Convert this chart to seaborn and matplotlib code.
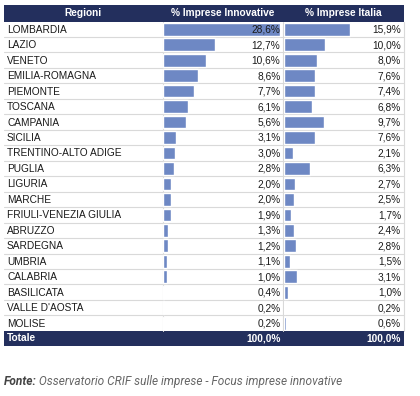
import matplotlib
matplotlib.use("Agg")
import matplotlib.pyplot as plt
import seaborn as sns
import pandas as pd
from matplotlib.patches import Rectangle

regions = ["LOMBARDIA", "LAZIO", "VENETO", "EMILIA-ROMAGNA", "PIEMONTE", "TOSCANA",
           "CAMPANIA", "SICILIA", "TRENTINO-ALTO ADIGE", "PUGLIA", "LIGURIA", "MARCHE",
           "FRIULI-VENEZIA GIULIA", "ABRUZZO", "SARDEGNA", "UMBRIA", "CALABRIA",
           "BASILICATA", "VALLE D'AOSTA", "MOLISE"]
innovative = [28.6, 12.7, 10.6, 8.6, 7.7, 6.1, 5.6, 3.1, 3.0, 2.8, 2.0, 2.0, 1.9, 1.3,
              1.2, 1.1, 1.0, 0.4, 0.2, 0.2]
italia = [15.9, 10.0, 8.0, 7.6, 7.4, 6.8, 9.7, 7.6, 2.1, 6.3, 2.7, 2.5, 1.7, 2.4,
          2.8, 1.5, 3.1, 1.0, 0.2, 0.6]
headers = ["Regioni", "% Imprese Innovative", "% Imprese Italia"]
total_label = "Totale"
totals = [100.0, 100.0]
source_bold = "Fonte:"
source_text = " Osservatorio CRIF sulle imprese - Focus imprese innovative"

df = pd.DataFrame({"Regione": regions, "Innovative": innovative, "Italia": italia})

sns.set_theme(style="white")
plt.rcParams["font.family"] = ["Liberation Sans", "DejaVu Sans"]

W, H = 420, 396
fig = plt.figure(figsize=(W / 100, H / 100), dpi=100)
fig.patch.set_facecolor("white")

NAVY = "#232f5d"
BAR = "#6e88c4"
GRID = "#d9d9d9"
TXT = "#1a1a1a"

n = len(regions)
top, row_h = 21.5, 15.47
bottom = top + n * row_h
left, c1, c2, right = 4.0, 162.5, 283.0, 404.0

# background / table decoration axes in pixel coordinates
bg = fig.add_axes([0, 0, 1, 1])
bg.set_xlim(0, W)
bg.set_ylim(H, 0)
bg.axis("off")
bg.add_patch(Rectangle((left, 5), right - left, top - 5, color=NAVY, lw=0))
bg.add_patch(Rectangle((left, bottom), right - left, 15.0, color=NAVY, lw=0))
for i in range(1, n):
    y = top + i * row_h
    bg.plot([left, right], [y, y], color=GRID, lw=0.8)
for x in (c1, c2, right):
    bg.plot([x, x], [top, bottom], color=GRID, lw=0.8)

fs = 7.3
hy = (5 + top) / 2
bg.text(82.5, hy, headers[0], color="white", fontweight="bold", fontsize=fs, ha="center", va="center")
bg.text(223, hy, headers[1], color="white", fontweight="bold", fontsize=fs, ha="center", va="center")
bg.text(343, hy, headers[2], color="white", fontweight="bold", fontsize=fs, ha="center", va="center")

ty = bottom + 7.5
bg.text(7, ty, total_label, color="white", fontweight="bold", fontsize=fs, ha="left", va="center")
bg.text(280.5, ty, f"{totals[0]:.1f}%".replace(".", ","), color="white", fontweight="bold",
        fontsize=fs, ha="right", va="center")
bg.text(401, ty, f"{totals[1]:.1f}%".replace(".", ","), color="white", fontweight="bold",
        fontsize=fs, ha="right", va="center")

for i, r in enumerate(regions):
    bg.text(7, top + (i + 0.5) * row_h + 0.5, r, color=TXT, fontsize=fs, ha="left", va="center")

# footer
ft = bg.text(3.5, 381.5, source_bold, color="#444444", fontweight="bold", fontstyle="italic",
             fontsize=8.6, ha="left", va="center", family=["Roboto", "DejaVu Sans"])
bg.annotate(source_text, xy=(1, 0.5), xycoords=ft, color="#666666", fontstyle="italic",
            fontsize=8.6, ha="left", va="center", family=["Roboto", "DejaVu Sans"])

XMAX = 29.0

def bar_axes(x0, x1, col, label_x):
    ax = fig.add_axes([x0 / W, 1 - bottom / H, (x1 - x0) / W, (bottom - top) / H])
    sns.barplot(data=df, y="Regione", x=col, order=regions, color=BAR, width=0.82,
                saturation=1, ax=ax, orient="h")
    ax.set_xlim(0, XMAX)
    ax.set_ylim(n - 0.5, -0.5)
    ax.axis("off")
    ax.patch.set_alpha(0)
    for i, v in enumerate(df[col]):
        ax.text(label_x, i + 0.03, f"{v:.1f}%".replace(".", ","), transform=ax.get_yaxis_transform(),
                ha="right", va="center", fontsize=fs, color=TXT)
    return ax

bar_axes(c1 + 0.3, c2 - 1, "Innovative", (280.5 - c1 - 0.3) / (c2 - 1 - c1 - 0.3))
bar_axes(c2 + 1, right, "Italia", (401 - c2 - 1) / (right - c2 - 1))

fig.savefig("out.png", dpi=100, facecolor="white")
